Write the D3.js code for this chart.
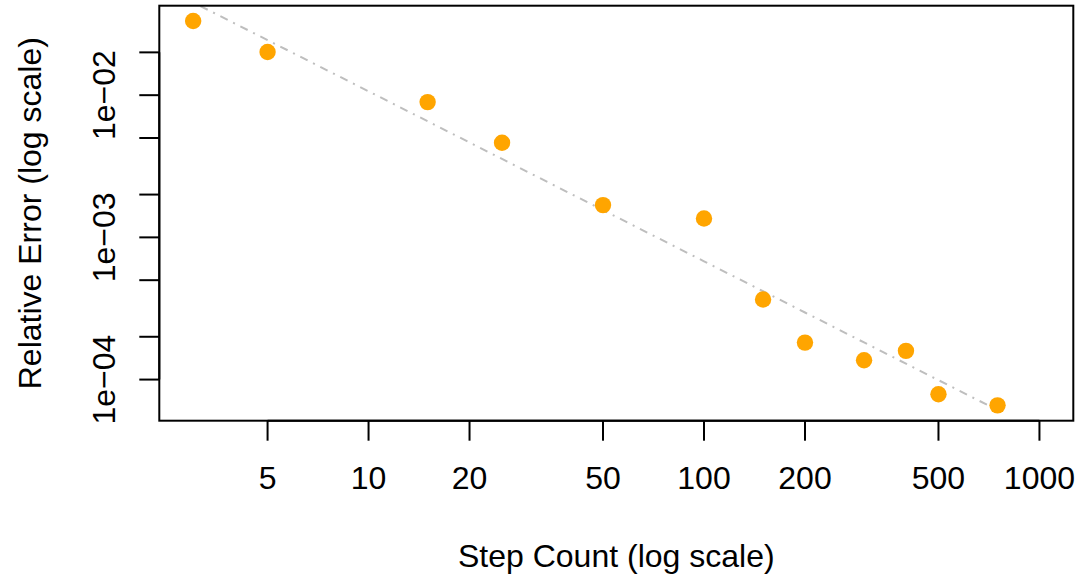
<!DOCTYPE html>
<html>
<head>
<meta charset="utf-8">
<script src="https://cdn.jsdelivr.net/npm/d3@7"></script>
<style>
  html, body { margin: 0; padding: 0; background: #fff; }
  text { font-family: "Liberation Sans", Arial, Helvetica, sans-serif; }
</style>
</head>
<body>
<svg id="chart"></svg>
<script>
// [A] Datos ------------------------------------------------------------------
const stepCounts = [3, 5, 15, 25, 50, 100, 150, 200, 300, 400, 500, 750];
const relErrors = [0.0332, 0.0201, 0.00894, 0.00463, 0.001687, 0.001358,
                   0.000366, 0.000182, 0.0001368, 0.0001592, 0.0000789, 0.0000659];
const xLimits = [3, 1000];
const xTicks = [5, 10, 20, 50, 100, 200, 500, 1000];
const yTicks = [1e-4, 2e-4, 5e-4, 1e-3, 2e-3, 5e-3, 1e-2, 2e-2];
const yTickLabels = [1e-4, 1e-3, 1e-2];

// [B] Configuración ----------------------------------------------------------
const width = 1080;
const height = 578;
const plot = { left: 159.3, right: 1073.3, top: 5.7, bottom: 420.7 };
const fontSize = 32;
const tickLen = 20;

const svg = d3.select("#chart")
    .attr("width", width)
    .attr("height", height);

svg.append("rect")
    .attr("width", width)
    .attr("height", height)
    .attr("fill", "#fff");

// [B.1] Extiende rango 4% en escala log (como R)
function logRange(lo, hi) {
    const a = Math.log10(lo), b = Math.log10(hi);
    const pad = (b - a) * 0.04;
    return [Math.pow(10, a - pad), Math.pow(10, b + pad)];
}

const x = d3.scaleLog()
    .domain(logRange(xLimits[0], xLimits[1]))
    .range([plot.left, plot.right]);

const y = d3.scaleLog()
    .domain(logRange(d3.min(relErrors), d3.max(relErrors)))
    .range([plot.bottom, plot.top]);

// [C] Recta de ajuste (mínimos cuadrados en log-log) -------------------------
const lx = stepCounts.map(Math.log10);
const ly = relErrors.map(Math.log10);
const mx = d3.mean(lx), my = d3.mean(ly);
const slope = d3.sum(lx, (v, i) => (v - mx) * (ly[i] - my)) / d3.sum(lx, v => (v - mx) ** 2);
const intercept = my - slope * mx;
const fitted = stepCounts.map(s => ({ s, e: Math.pow(10, intercept + slope * Math.log10(s)) }));

svg.append("clipPath")
    .attr("id", "plotClip")
    .append("rect")
    .attr("x", plot.left)
    .attr("y", plot.top)
    .attr("width", plot.right - plot.left)
    .attr("height", plot.bottom - plot.top);

svg.append("path")
    .datum(fitted)
    .attr("clip-path", "url(#plotClip)")
    .attr("d", d3.line().x(d => x(d.s)).y(d => y(d.e)))
    .attr("fill", "none")
    .attr("stroke", "#BEBEBE")
    .attr("stroke-width", 2)
    .attr("stroke-dasharray", "2 6.1 8.2 6.1");

// [D] Puntos -----------------------------------------------------------------
svg.append("g")
    .selectAll("circle")
    .data(stepCounts)
    .join("circle")
    .attr("cx", d => x(d))
    .attr("cy", (d, i) => y(relErrors[i]))
    .attr("r", 8.2)
    .attr("fill", "#FFA500");

// [E] Caja del gráfico -------------------------------------------------------
svg.append("rect")
    .attr("x", plot.left)
    .attr("y", plot.top)
    .attr("width", plot.right - plot.left)
    .attr("height", plot.bottom - plot.top)
    .attr("fill", "none")
    .attr("stroke", "#000")
    .attr("stroke-width", 2);

// [F] Eje X ------------------------------------------------------------------
const gx = svg.append("g");
gx.append("line")
    .attr("x1", x(xTicks[0])).attr("x2", x(xTicks[xTicks.length - 1]))
    .attr("y1", plot.bottom).attr("y2", plot.bottom)
    .attr("stroke", "#000").attr("stroke-width", 2);
gx.selectAll("line.tick")
    .data(xTicks)
    .join("line")
    .attr("class", "tick")
    .attr("x1", d => x(d)).attr("x2", d => x(d))
    .attr("y1", plot.bottom).attr("y2", plot.bottom + tickLen)
    .attr("stroke", "#000").attr("stroke-width", 2);
gx.selectAll("text")
    .data(xTicks)
    .join("text")
    .attr("x", d => x(d))
    .attr("y", 489)
    .attr("text-anchor", "middle")
    .attr("font-size", fontSize)
    .text(d => d);

// [G] Eje Y ------------------------------------------------------------------
const gy = svg.append("g");
gy.append("line")
    .attr("x1", plot.left).attr("x2", plot.left)
    .attr("y1", y(yTicks[0])).attr("y2", y(yTicks[yTicks.length - 1]))
    .attr("stroke", "#000").attr("stroke-width", 2);
gy.selectAll("line.tick")
    .data(yTicks)
    .join("line")
    .attr("class", "tick")
    .attr("x1", plot.left - tickLen).attr("x2", plot.left)
    .attr("y1", d => y(d)).attr("y2", d => y(d))
    .attr("stroke", "#000").attr("stroke-width", 2);
gy.selectAll("text")
    .data(yTickLabels)
    .join("text")
    .attr("transform", d => `translate(115,${y(d)}) rotate(-90)`)
    .attr("text-anchor", "middle")
    .attr("font-size", fontSize)
    .text(d => "1e\u2212" + String(-Math.round(Math.log10(d))).padStart(2, "0"));

// [H] Títulos de ejes --------------------------------------------------------
svg.append("text")
    .attr("x", (plot.left + plot.right) / 2)
    .attr("y", 566.7)
    .attr("text-anchor", "middle")
    .attr("font-size", fontSize)
    .text("Step Count (log scale)");

svg.append("text")
    .attr("transform", `translate(41,${(plot.top + plot.bottom) / 2}) rotate(-90)`)
    .attr("text-anchor", "middle")
    .attr("font-size", fontSize)
    .text("Relative Error (log scale)");
</script>
</body>
</html>
